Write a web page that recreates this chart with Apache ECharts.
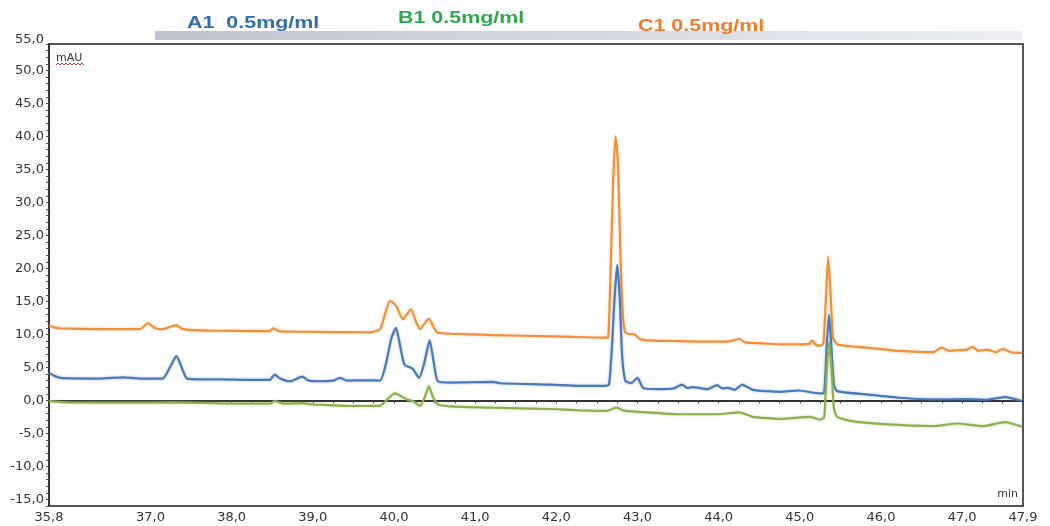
<!DOCTYPE html>
<html>
<head>
<meta charset="utf-8">
<script src="https://cdn.jsdelivr.net/npm/echarts@6/dist/echarts.min.js"></script>
<style>
html,body{margin:0;padding:0;background:#fff;}
#chart{width:1050px;height:526px;}
</style>
</head>
<body>
<div id="chart"></div>
<script>
// ---- data (retention time in min, absorbance in mAU) ----
const seriesNames = ['C1 0.5mg/ml', 'A1  0.5mg/ml', 'B1 0.5mg/ml'];
const seriesColors = ['#f0913a', '#4a78b8', '#8cb04c'];
const titleColors = ['#f07c2e', '#2f6db3', '#2ea84f'];

const traceC1 = [
  [35.75,11.4],[35.83,11.0],[35.89,10.9],[36.38,10.8],[36.87,10.8],[36.97,11.7],[37.05,11.0],[37.14,10.75],
  [37.315,11.4],[37.40,10.8],[37.61,10.6],[37.86,10.55],[38.23,10.5],[38.47,10.5],[38.51,10.9],[38.60,10.45],
  [38.87,10.4],[39.25,10.35],[39.46,10.35],[39.70,10.3],[39.83,10.8],[39.90,13.5],[39.95,15.1],[40.03,14.3],
  [40.11,12.3],[40.21,13.8],[40.27,12.0],[40.32,10.8],[40.43,12.4],[40.50,10.8],[40.54,10.25],[40.70,10.1],
  [41.22,9.9],[41.92,9.7],[42.29,9.6],[42.60,9.5],[42.64,9.6],[42.67,20],[42.70,33],[42.73,40.0],[42.76,36],
  [42.79,22],[42.82,13],[42.85,10.3],[42.91,10.0],[42.95,10.1],[43.03,9.3],[43.12,9.1],[43.44,9.0],[43.77,8.9],
  [44.10,8.9],[44.26,9.3],[44.32,8.8],[44.60,8.6],[44.76,8.5],[45.00,8.5],[45.125,8.6],[45.15,9.1],[45.20,8.4],
  [45.25,8.3],[45.29,8.6],[45.32,15],[45.35,21.8],[45.38,16],[45.41,9.5],[45.46,8.5],[45.62,8.2],[45.83,8.0],
  [46.23,7.5],[46.64,7.3],[46.75,8.0],[46.84,7.5],[46.94,7.6],[47.06,7.7],[47.13,8.1],[47.20,7.5],[47.31,7.7],
  [47.42,7.3],[47.50,7.8],[47.60,7.3],[47.74,7.2]
];
const traceA1 = [
  [35.75,4.2],[35.80,3.8],[35.89,3.4],[36.38,3.3],[36.66,3.5],[36.87,3.3],[37.15,3.3],[37.24,5.0],[37.32,6.7],
  [37.40,4.5],[37.45,3.3],[37.61,3.2],[37.86,3.2],[38.23,3.1],[38.47,3.1],[38.53,3.9],[38.60,3.3],[38.72,2.9],
  [38.87,3.6],[38.95,3.0],[39.09,2.9],[39.25,3.0],[39.335,3.4],[39.42,3.0],[39.67,3.05],[39.83,3.0],[39.90,5.5],
  [39.97,9.5],[40.025,11.0],[40.08,8.0],[40.13,5.4],[40.23,4.8],[40.31,3.4],[40.37,5.5],[40.44,9.1],[40.50,5.0],
  [40.54,2.9],[40.69,2.7],[41.22,2.8],[41.31,2.6],[41.92,2.4],[42.29,2.2],[42.60,2.2],[42.65,2.4],[42.69,9],
  [42.72,16],[42.75,20.5],[42.78,16],[42.81,7],[42.85,3.0],[42.92,2.6],[43.00,3.4],[43.07,1.9],[43.24,1.7],
  [43.44,1.8],[43.55,2.4],[43.61,1.9],[43.68,2.0],[43.86,1.7],[43.98,2.3],[44.05,1.8],[44.115,1.9],[44.20,1.6],
  [44.29,2.4],[44.42,1.6],[44.76,1.3],[44.98,1.5],[45.25,1.05],[45.30,1.2],[45.33,8],[45.36,13.0],[45.39,8],
  [45.42,2.5],[45.46,1.4],[45.83,0.9],[46.23,0.4],[46.64,0.15],[47.06,0.2],[47.30,0.1],[47.53,0.5],[47.74,-0.1]
];
const traceB1 = [
  [35.75,-0.1],[36.0,-0.3],[36.66,-0.35],[37.32,-0.3],[37.86,-0.45],[38.47,-0.5],[38.53,-0.1],[38.65,-0.5],
  [38.87,-0.4],[39.0,-0.6],[39.25,-0.75],[39.46,-0.85],[39.83,-0.8],[39.93,0.3],[40.01,1.05],[40.16,0.15],
  [40.25,-0.2],[40.32,-0.85],[40.38,0.5],[40.43,2.15],[40.48,0.5],[40.54,-0.6],[40.69,-0.9],[41.22,-1.1],
  [41.92,-1.3],[42.29,-1.5],[42.62,-1.6],[42.74,-1.1],[42.85,-1.6],[43.12,-1.8],[43.52,-2.1],[43.98,-2.1],
  [44.26,-1.8],[44.42,-2.5],[44.76,-2.8],[45.125,-2.5],[45.25,-2.9],[45.30,-2.6],[45.33,4],[45.36,8.8],[45.39,5],
  [45.42,-1.2],[45.46,-2.5],[45.62,-3.1],[46.03,-3.6],[46.64,-3.9],[46.94,-3.5],[47.26,-3.9],[47.53,-3.3],[47.74,-4.0]
];

// ---- axis ticks / labels ----
const xMin = 35.75, xMax = 47.75;
const xLabelValues = [35.75, 37, 38, 39, 40, 41, 42, 43, 44, 45, 46, 47, 47.75];
const xLabelTexts  = ['35,8','37,0','38,0','39,0','40,0','41,0','42,0','43,0','44,0','45,0','46,0','47,0','47,9'];
const yMin = -16, yMax = 54;
const yLabelValues = [-15,-10,-5,0,5,10,15,20,25,30,35,40,45,50];
const yTopLabel = 55;

const xTickValues = [];
for (let v = xMin; v <= xMax + 1e-9; v += 0.25) xTickValues.push(+v.toFixed(2));
const yTickValues = [];
for (let v = yMin; v <= yMax; v += 1) yTickValues.push(v);

const fmt = v => v.toFixed(1).replace('.', ',');

const chart = echarts.init(document.getElementById('chart'));
const traces = [traceC1, traceA1, traceB1];

const option = {
  animation: false,
  backgroundColor: '#ffffff',
  grid: {left: 49, right: 27, top: 44, bottom: 20, show: true, borderColor: '#555', borderWidth: 2, backgroundColor: 'transparent'},
  xAxis: {
    type: 'value', min: xMin, max: xMax,
    axisLine: {show: true, lineStyle: {color: '#333', width: 2}},
    axisTick: {show: true, customValues: xTickValues, length: 3, lineStyle: {color: '#444'}},
    axisLabel: {
      customValues: xLabelValues, color: '#333', fontFamily: 'DejaVu Sans', fontSize: 13, margin: 5,
      formatter: v => { const i = xLabelValues.findIndex(x => Math.abs(x - v) < 1e-6); return i >= 0 ? xLabelTexts[i] : fmt(v); }
    },
    splitLine: {show: false}
  },
  yAxis: {
    type: 'value', min: yMin, max: yMax,
    axisLine: {show: true, lineStyle: {color: '#333', width: 2}},
    axisTick: {show: true, customValues: yTickValues, length: 3, lineStyle: {color: '#555'}},
    axisLabel: {customValues: yLabelValues, color: '#333', fontFamily: 'DejaVu Sans', fontSize: 13, margin: 5, formatter: v => fmt(v)},
    splitLine: {show: false}
  },
  series: traces.map((d, i) => ({
    name: seriesNames[i], type: 'line', data: d, showSymbol: false, smooth: 0.18,
    lineStyle: {color: seriesColors[i], width: 2.2, shadowColor: seriesColors[i] + '66', shadowBlur: 3},
    z: 2 + i
  }))
};
chart.setOption(option);

const y55 = chart.convertToPixel({yAxisIndex: 0}, yTopLabel);
const titlePos = [[638, 27], [187, 23.5], [398, 19]];
const titles = seriesNames.map((n, i) => ({
  type: 'text', x: titlePos[i][0], y: titlePos[i][1], scaleX: 1.34, z: 10,
  style: {text: n, fill: titleColors[i], font: 'bold 16px "Liberation Sans", Arial', verticalAlign: 'middle', align: 'left'}
}));

chart.setOption({
  graphic: [
    {type: 'rect', shape: {x: 155, y: 31, width: 867, height: 9}, z: 1,
     style: {fill: new echarts.graphic.LinearGradient(0, 0, 1, 0, [{offset: 0, color: '#bfc2ce'}, {offset: 1, color: '#eceef3'}])}},
    ...titles,
    {type: 'text', x: 44, y: y55 + 2, z: 10,
     style: {text: fmt(yTopLabel), fill: '#333', font: '13px "DejaVu Sans"', align: 'right', verticalAlign: 'middle'}},
    {type: 'text', x: 56, y: 58, z: 10,
     style: {text: 'mAU', fill: '#333', font: '11px "DejaVu Sans"', align: 'left', verticalAlign: 'middle'}},
    {type: 'polyline', z: 10, shape: {points: [[56,65],[58,63],[60,65],[62,63],[64,65],[66,63],[68,65],[70,63],[72,65],[74,63],[76,65],[78,63],[80,65],[82,63],[84,65]]},
     style: {stroke: '#e03030', lineWidth: 1, fill: null}},
    {type: 'text', x: 1018, y: 494, z: 10,
     style: {text: 'min', fill: '#333', font: '11px "DejaVu Sans"', align: 'right', verticalAlign: 'middle'}}
  ]
});
</script>
</body>
</html>
